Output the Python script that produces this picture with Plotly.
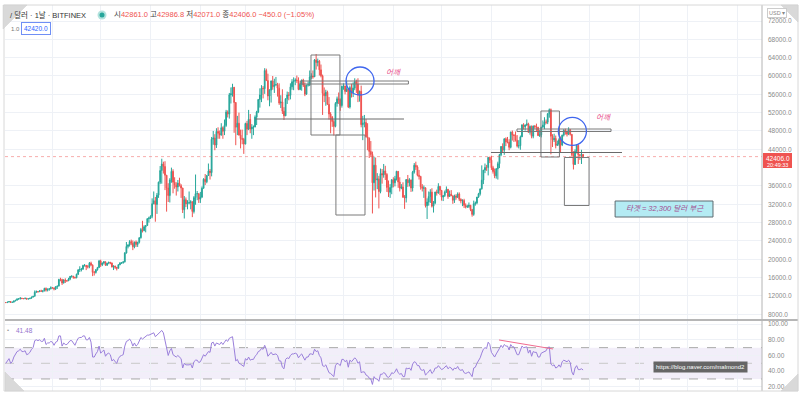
import pandas as pd
import plotly.graph_objects as go

# ---------------- data (BTC/USD daily, Bitfinex) ----------------
dates = pd.date_range("2020-10-03", "2021-09-27", freq="D")

open_ = [
    10570, 10550, 10670, 10790, 10600, 10670, 10920, 11060, 11300, 11380, 11540, 11430, 11430, 11500, 11330, 11370, 11510, 11750, 11920, 12820, 12970, 12930, 13110, 13030, 13070, 13650, 13270, 13460, 13560,
    13800, 13760, 13550, 14030, 14150, 15590, 15580, 14830, 15480, 15330, 15300, 15700, 16280, 16320, 16070, 15960, 16730, 17680, 17800, 17820, 18660, 18680, 18370, 18360, 19160, 18720, 17150, 17140, 17720, 18180,
    19630, 18800, 19200, 19450, 18700, 19150, 19360, 19170, 18320, 18550, 18250, 18030, 18800, 19140, 19250, 19440, 21380, 22800, 23130, 23860, 23480, 22740, 23780, 23240, 23730, 24710, 26490, 26280, 27080, 27360, 28840,
    29000, 29370, 32130, 32780, 31970, 33990, 36820, 39370, 40800, 40250, 38350, 35550, 33900, 37320, 39190, 36830, 36180, 35790, 36630, 36060, 35550, 30820, 33010, 32100, 32290, 32370, 32570, 30430, 33470, 34320, 34320,
    33110, 33540, 35510, 37470, 36930, 38300, 39260, 38900, 46200, 46480, 44920, 47910, 47500, 47100, 48720, 47940, 49200, 52150, 51680, 55890, 56100, 57540, 54210, 48820, 49700, 47100, 46340, 46190,
    45140, 49630, 48380, 50540, 48440, 48860, 48880, 51020, 52130, 54880, 55860, 57330, 57220, 61190, 59000, 55630, 56910, 58920, 57650, 58030, 58100, 57350, 54100, 54340, 52300, 51300, 55030, 55860, 55780, 57630, 58730,
    58920, 59100, 59040, 57060, 58200, 59120, 57990, 56030, 58010, 58090, 59800, 60000, 59820, 63500, 62940, 63220, 61340, 60040, 56200, 55700, 56450, 53810, 51700, 51090, 50050, 49000, 54020, 55030, 54820, 53560,
    57750, 57830, 56630, 57200, 53240, 57470, 56400, 57350, 58800, 58230, 55860, 56670, 49380, 49700, 49840, 46720, 46420, 43540, 42870, 36690, 40530, 37300, 37540, 34770, 38700, 38400, 39290, 38530, 35680, 34630, 35680,
    37340, 36690, 37580, 39190, 36860, 35520, 35800, 33560, 33400, 37390, 36690, 37310, 35550, 39020, 40530, 40160, 38340, 38090, 35820, 35480, 35590, 31680, 32500, 33690, 34660, 31590, 32280, 34700, 34490, 35910,
    35040, 33570, 33900, 34660, 35290, 33710, 34220, 33860, 32880, 33820, 33520, 34260, 33090, 32730, 32820, 31780, 31420, 31530, 31800, 30840, 29800, 32140, 32310, 33580, 34290, 35380, 37270, 39460, 40030, 40010, 42240,
    41630, 39970, 39150, 38210, 39750, 40870, 42830, 44610, 43820, 46290, 45580, 45570, 44430, 47790, 47100, 47040, 45970, 44700, 44800, 46720, 49340, 48900, 49320, 49540, 47710, 48990, 46850, 49070, 48900, 48810, 46990,
    47150, 48840, 49280, 49940, 49920, 51770, 52660, 46860, 46070, 46370, 44850, 45160, 46060, 44960, 47090, 48150, 47780, 47300, 48310, 47260, 42840, 40690, 43560, 44880, 42810, 42700, 42861,
]
high = [
    10600, 10690, 10800, 10800, 10690, 10950, 11100, 11480, 11440, 11720, 11560, 11550, 11630, 11540, 11400, 11530, 11820, 11990, 13200, 13180, 13020, 13150, 13350, 13240, 13780, 13850, 13630, 13680, 14100,
    13890, 13830, 14070, 14250, 15750, 15970, 15760, 15650, 15840, 15460, 15950, 16340, 16480, 16330, 16150, 16870, 17850, 18480, 18120, 18800, 18960, 18720, 18770, 19400, 19480, 18900, 17440, 17880, 18340, 19860,
    19920, 19300, 19600, 19520, 19170, 19420, 19400, 19290, 18640, 18560, 18280, 18950, 19400, 19330, 19550, 21560, 23770, 23270, 24170, 24300, 24100, 23830, 24100, 23800, 24800, 26850, 28400, 27420, 27400, 28990, 29300,
    29600, 33300, 34800, 33600, 34470, 36950, 40350, 41950, 41300, 41400, 38400, 36600, 37700, 40000, 39650, 37900, 36800, 37300, 37800, 36400, 35600, 33800, 33500, 32900, 34800, 32900, 32600, 33800, 38500, 34900, 34400,
    34700, 35900, 37700, 38600, 38300, 40900, 39700, 46700, 48000, 47300, 48600, 48800, 48100, 49700, 49000, 50500, 52600, 52500, 56300, 57500, 58300, 57600, 54300, 51300, 52000, 48300, 48300, 46500,
    49800, 50200, 52600, 51700, 49500, 49200, 51400, 52400, 54900, 57300, 58000, 57800, 61700, 61600, 60500, 57100, 59000, 60000, 59400, 59800, 58500, 58400, 55800, 57100, 53200, 55100, 56600, 56500, 58400, 59300, 59700,
    59500, 60100, 59700, 58500, 59200, 59400, 58600, 58100, 58800, 61200, 60600, 61200, 63700, 64800, 63800, 63500, 62500, 60300, 57500, 57000, 56800, 55400, 52100, 51200, 50500, 54300, 55500, 56400, 55100, 57900,
    58400, 57900, 58900, 57300, 57900, 58300, 58600, 59500, 59200, 59500, 56800, 57900, 51300, 51500, 50600, 49700, 46600, 45800, 43500, 42400, 42200, 38800, 38200, 39800, 39700, 40800, 40400, 38800, 37200, 36400, 37500,
    37900, 38200, 39300, 39200, 37900, 36400, 36800, 34000, 37500, 38400, 37700, 37400, 39300, 41000, 41300, 40500, 39500, 38200, 36400, 36100, 35700, 33300, 34800, 35300, 35500, 32700, 34700, 35200, 36600, 36000,
    35100, 33900, 35000, 35900, 35300, 35000, 35100, 33900, 34100, 34200, 34600, 34600, 33300, 33100, 33200, 32200, 31900, 32400, 31800, 31000, 32800, 32600, 33600, 34500, 35400, 40500, 39500, 40900, 40600, 42300, 42400,
    42600, 40400, 39800, 39900, 41300, 43000, 44700, 45300, 46400, 46600, 46700, 46200, 47800, 48100, 47300, 47900, 47100, 46000, 47000, 49400, 49700, 49400, 50500, 49800, 49200, 49200, 49200, 49300, 49600, 48900, 48200,
    48900, 50300, 51000, 50500, 51900, 52900, 52900, 47300, 47400, 47000, 45900, 46400, 46800, 47200, 48400, 48500, 48100, 48800, 48400, 47300, 43600, 44000, 44900, 45100, 42900, 43900, 42986.8,
]
low = [
    10500, 10520, 10630, 10550, 10550, 10540, 10830, 11060, 11260, 11230, 11300, 11280, 11280, 11220, 11300, 11350, 11420, 11690, 11900, 12710, 12720, 12900, 12900, 12770, 13050, 12950, 12990, 13130, 13430,
    13630, 13220, 13290, 13530, 14100, 15200, 14400, 14710, 14830, 15080, 15280, 15440, 15980, 15760, 15800, 15870, 16560, 17220, 17350, 17760, 18400, 17640, 18000, 18050, 18600, 16330, 16450, 16890, 17530, 18180,
    18330, 18520, 18900, 18580, 18580, 18920, 18920, 18220, 17650, 17910, 17570, 18000, 18720, 19000, 19050, 19300, 21250, 22380, 22780, 23080, 22000, 22400, 22700, 22700, 23450, 24520, 25850, 26100, 25880, 27340, 28000,
    28800, 28950, 32000, 28200, 29900, 33400, 36400, 36500, 38700, 35100, 30400, 32500, 32400, 36700, 34400, 35400, 33900, 34800, 35900, 33400, 30100, 28900, 31400, 30900, 32000, 30900, 29200, 30000, 31900, 32900, 32300,
    32300, 33450, 35400, 36200, 36600, 38200, 37400, 38100, 45000, 43800, 44300, 46300, 46300, 47000, 46300, 47100, 48900, 50950, 50700, 54000, 55500, 47600, 44900, 47100, 47000, 44200, 45100, 43000,
    45100, 47100, 48200, 47500, 46300, 47100, 48800, 49300, 51900, 53100, 54300, 55100, 56100, 58900, 54700, 53400, 54200, 57000, 56300, 57900, 55500, 53700, 53000, 51700, 50400, 51300, 53900, 54700, 54900, 57000, 56900,
    58000, 58500, 56900, 56900, 56800, 57600, 55600, 55900, 57700, 57800, 59300, 59400, 59800, 61400, 62100, 60100, 59700, 51500, 54300, 53500, 53700, 50500, 47500, 48900, 47000, 48800, 53300, 53900, 52400, 53100,
    57000, 56000, 56500, 53000, 52900, 55300, 55400, 56900, 56300, 54300, 54400, 48800, 46000, 48800, 46600, 43800, 42100, 42300, 30000, 35000, 33500, 35300, 31100, 34400, 36500, 37800, 37300, 34700, 33600, 33400, 34200,
    35700, 35900, 37200, 35600, 34800, 35300, 33400, 31000, 32400, 35800, 35900, 34700, 34800, 38700, 39500, 38100, 37400, 35200, 34800, 33400, 31300, 28800, 31700, 32300, 31300, 30200, 32000, 33900, 34300, 34000,
    32800, 32700, 33600, 34500, 33200, 33600, 33800, 32100, 32300, 33000, 33400, 32700, 32200, 31600, 31200, 31100, 31200, 31200, 30500, 29300, 29500, 31700, 32000, 33400, 33900, 35200, 36400, 38800, 39300, 38300, 41000,
    39500, 38700, 37700, 37600, 37400, 39900, 42500, 43300, 42800, 44700, 45300, 43800, 44200, 45900, 45600, 45700, 44400, 44200, 43900, 46700, 48300, 48100, 49100, 47600, 47200, 46400, 46400, 48500, 48000, 46900, 46700,
    46600, 48700, 48400, 49500, 49500, 50900, 42900, 44500, 45600, 44200, 44800, 44800, 43400, 44700, 46800, 47200, 46800, 47100, 47000, 42500, 39600, 40600, 43100, 40800, 41700, 40800, 42071,
]
close = [
    10550, 10670, 10790, 10600, 10670, 10920, 11060, 11300, 11380, 11540, 11430, 11430, 11500, 11330, 11370, 11510, 11750, 11920, 12820, 12970, 12930, 13110, 13030, 13070, 13650, 13270, 13460, 13560, 13800,
    13760, 13550, 14030, 14150, 15590, 15580, 14830, 15480, 15330, 15300, 15700, 16280, 16320, 16070, 15960, 16730, 17680, 17800, 17820, 18660, 18680, 18370, 18360, 19160, 18720, 17150, 17140, 17720, 18180, 19630,
    18800, 19200, 19450, 18700, 19150, 19360, 19170, 18320, 18550, 18250, 18030, 18800, 19140, 19250, 19440, 21380, 22800, 23130, 23860, 23480, 22740, 23780, 23240, 23730, 24710, 26490, 26280, 27080, 27360, 28840, 29000,
    29370, 32130, 32780, 31970, 33990, 36820, 39370, 40800, 40250, 38350, 35550, 33900, 37320, 39190, 36830, 36180, 35790, 36630, 36060, 35550, 30820, 33010, 32100, 32290, 32370, 32570, 30430, 33470, 34320, 34320, 33110,
    33540, 35510, 37470, 36930, 38300, 39260, 38900, 46200, 46480, 44920, 47910, 47500, 47100, 48720, 47940, 49200, 52150, 51680, 55890, 56100, 57540, 54210, 48820, 49700, 47100, 46340, 46190, 45140,
    49630, 48380, 50540, 48440, 48860, 48880, 51020, 52130, 54880, 55860, 57330, 57220, 61190, 59000, 55630, 56910, 58920, 57650, 58030, 58100, 57350, 54100, 54340, 52300, 51300, 55030, 55860, 55780, 57630, 58730, 58920,
    59100, 59040, 57060, 58200, 59120, 57990, 56030, 58010, 58090, 59800, 60000, 59820, 63500, 62940, 63220, 61340, 60040, 56200, 55700, 56450, 53810, 51700, 51090, 50050, 49000, 54020, 55030, 54820, 53560, 57750,
    57830, 56630, 57200, 53240, 57470, 56400, 57350, 58800, 58230, 55860, 56670, 49380, 49700, 49840, 46720, 46420, 43540, 42870, 36690, 40530, 37300, 37540, 34770, 38700, 38400, 39290, 38530, 35680, 34630, 35680, 37340,
    36690, 37580, 39190, 36860, 35520, 35800, 33560, 33400, 37390, 36690, 37310, 35550, 39020, 40530, 40160, 38340, 38090, 35820, 35480, 35590, 31680, 32500, 33690, 34660, 31590, 32280, 34700, 34490, 35910, 35040,
    33570, 33900, 34660, 35290, 33710, 34220, 33860, 32880, 33820, 33520, 34260, 33090, 32730, 32820, 31780, 31420, 31530, 31800, 30840, 29800, 32140, 32310, 33580, 34290, 35380, 37270, 39460, 40030, 40010, 42240, 41630,
    39970, 39150, 38210, 39750, 40870, 42830, 44610, 43820, 46290, 45580, 45570, 44430, 47790, 47100, 47040, 45970, 44700, 44800, 46720, 49340, 48900, 49320, 49540, 47710, 48990, 46850, 49070, 48900, 48810, 46990, 47150,
    48840, 49280, 49940, 49920, 51770, 52660, 46860, 46070, 46370, 44850, 45160, 46060, 44960, 47090, 48150, 47780, 47300, 48310, 47260, 42840, 40690, 43560, 44880, 42810, 42700, 42856, 42406,
]
rsi = [
    50, 53, 56, 50, 52, 58, 61, 65, 66, 68, 65, 65, 66, 61, 62, 64, 68, 70, 79, 80, 79, 80, 78, 78, 82, 74, 76, 76, 78,
    77, 73, 77, 78, 85, 85, 72, 76, 74, 74, 76, 79, 79, 75, 73, 78, 82, 83, 83, 85, 85, 80, 80, 83, 77, 58, 58, 62, 65, 72,
    63, 65, 67, 59, 62, 63, 61, 53, 55, 52, 50, 56, 59, 60, 61, 72, 78, 79, 81, 78, 72, 76, 72, 74, 78, 83, 81, 83, 84, 86, 86,
    87, 89, 89, 84, 86, 89, 91, 92, 89, 79, 66, 60, 66, 69, 61, 59, 58, 60, 58, 56, 44, 50, 48, 48, 48, 49, 44, 52, 54, 54, 51,
    52, 56, 61, 59, 63, 65, 64, 76, 77, 72, 76, 75, 74, 77, 74, 77, 80, 78, 82, 83, 84, 69, 53, 55, 50, 49, 48, 46,
    56, 54, 58, 54, 55, 55, 59, 61, 65, 66, 69, 68, 73, 68, 59, 61, 64, 61, 62, 62, 60, 53, 53, 45, 43, 55, 57, 56, 60, 62, 62,
    63, 62, 57, 60, 62, 58, 54, 58, 58, 62, 62, 61, 68, 65, 66, 60, 57, 47, 46, 48, 42, 38, 37, 35, 33, 47, 50, 49, 47, 55,
    55, 52, 54, 45, 54, 52, 54, 57, 55, 50, 52, 38, 39, 39, 35, 34, 31, 30, 23, 33, 30, 30, 27, 36, 36, 38, 37, 33, 32, 34, 38,
    37, 39, 43, 38, 36, 37, 33, 33, 44, 43, 44, 41, 49, 52, 51, 47, 47, 42, 41, 42, 35, 37, 40, 42, 37, 39, 44, 44, 47, 45,
    42, 43, 45, 47, 43, 45, 44, 41, 44, 43, 46, 42, 41, 42, 38, 37, 38, 39, 36, 33, 44, 45, 50, 53, 57, 63, 68, 70, 69, 77, 74,
    64, 61, 58, 62, 65, 69, 73, 70, 74, 72, 72, 67, 74, 71, 71, 66, 61, 61, 67, 72, 70, 71, 71, 63, 67, 59, 65, 64, 64, 58, 58,
    63, 64, 66, 66, 70, 71, 49, 47, 48, 44, 45, 48, 45, 52, 54, 53, 52, 54, 51, 39, 35, 44, 47, 42, 42, 43, 41.48,
]
price_ticks = [8000, 12000, 16000, 20000, 24000, 28000, 32000, 36000, 44000,
               48000, 52000, 56000, 60000, 64000, 68000, 72000]
rsi_ticks = [20, 40, 60, 80, 100]
last_price = 42406
target_text = "타겟 = 32,300 달러 부근"

# ---------------- style ----------------
W, H = 800, 397
UP, DOWN = "#26a69a", "#ef5350"
GRID = "#eef1f6"
AXF = dict(family="Liberation Sans, Noto Sans CJK KR, sans-serif", size=6.5, color="#8a8a8a")
FONT = "Liberation Sans, Noto Sans CJK KR, sans-serif"
XDOM = [5 / W, 762 / W]
XR = ["2020-10-02 12:00", "2022-01-16 06:30"]


def px(x):
    return x / W


def py(y):
    return 1 - y / H


fig = go.Figure()
fig.add_trace(go.Candlestick(
    x=dates, open=open_, high=high, low=low, close=close,
    increasing=dict(line=dict(color=UP, width=1), fillcolor=UP),
    decreasing=dict(line=dict(color=DOWN, width=1), fillcolor=DOWN),
    whiskerwidth=0, xaxis="x", yaxis="y", hoverinfo="skip", showlegend=False))
fig.add_trace(go.Scatter(
    x=dates, y=rsi, mode="lines", line=dict(color="#9a7fdb", width=1),
    xaxis="x2", yaxis="y2", hoverinfo="skip", showlegend=False))

common_x = dict(domain=XDOM, range=XR, type="date", showticklabels=False, showgrid=True,
                gridcolor=GRID, gridwidth=1, dtick="M1", tick0="2020-11-01",
                zeroline=False, showline=False, ticks="", fixedrange=True)

fig.update_layout(
    width=W, height=H, margin=dict(l=0, r=0, t=0, b=0),
    paper_bgcolor="white", plot_bgcolor="white", showlegend=False, hovermode=False,
    xaxis=dict(**common_x, anchor="y", rangeslider=dict(visible=False)),
    xaxis2=dict(**common_x, anchor="y2", matches="x"),
    yaxis=dict(domain=[py(320), py(5)], range=[6752, 75492], side="right", anchor="x",
               tickvals=price_ticks, tickformat=".1f", tickfont=AXF, showgrid=True,
               gridcolor=GRID, zeroline=False, ticks="", automargin=False,
               ticklabelstandoff=5, showline=False, fixedrange=True),
    yaxis2=dict(domain=[py(391), py(321)], range=[14.61, 104.06], side="right", anchor="x2",
                tickvals=rsi_ticks, tickformat=".2f", tickfont=AXF, showgrid=True,
                gridcolor=GRID, zeroline=False, ticks="", automargin=False,
                ticklabelstandoff=5, showline=False, fixedrange=True),
)

shapes = []
# RSI band and levels
shapes.append(dict(type="rect", xref="paper", yref="y2", x0=XDOM[0], x1=XDOM[1], y0=30, y1=70,
                   fillcolor="rgba(126,87,194,0.10)", line=dict(width=0), layer="below"))
for lv, col in [(70, "#a8a8a8"), (50, "#c8c8c8"), (30, "#a8a8a8")]:
    shapes.append(dict(type="line", xref="paper", yref="y2", x0=XDOM[0], x1=XDOM[1], y0=lv, y1=lv,
                       line=dict(color=col, width=1, dash="dash"), layer="below"))
# current price line
shapes.append(dict(type="line", xref="paper", yref="y", x0=XDOM[0], x1=XDOM[1], y0=last_price, y1=last_price,
                   line=dict(color="rgba(239,83,80,0.6)", width=0.8, dash="dot")))
# pane separators
shapes.append(dict(type="line", xref="paper", yref="paper", x0=px(5), x1=px(798), y0=py(320), y1=py(320),
                   line=dict(color="#9e9e9e", width=1.5)))
shapes.append(dict(type="line", xref="paper", yref="paper", x0=px(762), x1=px(762), y0=py(391), y1=py(5),
                   line=dict(color="#b4b4b4", width=1)))

GRAY = "#7a7a7a"
BLUE = "#3f66ee"
# left shoulder drawings
shapes += [
    dict(type="rect", x0="2021-04-10 19:00", x1="2021-04-28 19:00", y0=47120, y1=64580, line=dict(color=GRAY, width=1)),
    dict(type="rect", x0="2021-04-26 07:00", x1="2021-05-14 09:00", y0=29665, y1=47120, line=dict(color=GRAY, width=1)),
    dict(type="line", x0="2021-03-07 05:00", x1="2021-06-07 15:00", y0=50614, y1=50614, line=dict(color="#6a6a6a", width=1)),
    dict(type="rect", x0="2021-04-04 04:00", x1="2021-06-10 09:00", y0=58252, y1=58907, line=dict(color=GRAY, width=1)),
    dict(type="circle", x0="2021-05-02 14:00", x1="2021-05-20 00:00", y0=55852, y1=61962, line=dict(color=BLUE, width=1.3)),
    # right shoulder drawings
    dict(type="rect", x0="2021-08-31 19:00", x1="2021-09-12 07:00", y0=42322, y1=52360, line=dict(color=GRAY, width=1)),
    dict(type="rect", x0="2021-09-15 09:00", x1="2021-09-30 17:00", y0=31738, y1=42213, line=dict(color=GRAY, width=1)),
    dict(type="line", x0="2021-07-31 17:00", x1="2021-10-21 05:00", y0=43304, y1=43304, line=dict(color="#6a6a6a", width=1)),
    dict(type="rect", x0="2021-08-16 22:00", x1="2021-10-14 09:00", y0=47887, y1=48432, line=dict(color=GRAY, width=1)),
    dict(type="circle", x0="2021-09-11 15:00", x1="2021-09-29 02:00", y0=44875, y1=50985, line=dict(color=BLUE, width=1.3)),
    # target box
    dict(type="rect", x0="2021-10-16 22:00", x1="2021-12-16 19:00", y0=29229, y1=32720,
         fillcolor="#b4ebf3", line=dict(color="#5f6b70", width=1)),
]
# RSI divergence line
shapes.append(dict(type="line", xref="x2", yref="y2", x0="2021-08-05 17:00", x1="2021-09-08 07:00",
                   y0=79.8, y1=68.3, line=dict(color="#f06b8f", width=1)))
# price label box
shapes.append(dict(type="rect", xref="paper", yref="paper", x0=px(763), x1=px(792), y0=py(168), y1=py(153),
                   fillcolor="#ef5350", line=dict(width=0)))
# legend dot
shapes.append(dict(type="circle", xref="paper", yref="paper", x0=px(97.5), x1=px(106.5), y0=py(19.5), y1=py(10.5),
                   fillcolor="#b3e2dd", line=dict(width=0)))
shapes.append(dict(type="circle", xref="paper", yref="paper", x0=px(99.5), x1=px(104.5), y0=py(17.5), y1=py(12.5),
                   fillcolor=UP, line=dict(width=0)))
# frame and page-curl corners
shapes.append(dict(type="rect", xref="paper", yref="paper", x0=px(4), x1=px(798), y0=py(391), y1=py(5),
                   line=dict(color="#d8d8d8", width=1)))
for pts in [[(3, 5), (27, 5), (3, 29)], [(5, 372), (5, 391), (24, 391)],
            [(781, 5), (798, 5), (798, 22)], [(781, 391), (798, 391), (798, 374)]]:
    path = "M " + " L ".join(f"{px(a):.5f},{py(b):.5f}" for a, b in pts) + " Z"
    shapes.append(dict(type="path", xref="paper", yref="paper", path=path,
                       fillcolor="#d9d9d9", line=dict(color="#cfcfcf", width=0.5)))
fig.update_layout(shapes=shapes)

ann = []
R = "#ef5350"
ohlc = (f"시<span style='color:{R}'>42861.0</span> 고<span style='color:{R}'>42986.8</span> "
        f"저<span style='color:{R}'>42071.0</span> 종<span style='color:{R}'>42406.0</span> "
        f"<span style='color:{R}'>−450.0 (−1.05%)</span>")
ann += [
    dict(xref="paper", yref="paper", x=px(8), y=py(15), xanchor="left", yanchor="middle", showarrow=False,
         text="/ 달러 · 1날 · BITFINEX", font=dict(family=FONT, size=7.5, color="#333333")),
    dict(xref="paper", yref="paper", x=px(112), y=py(15), xanchor="left", yanchor="middle", showarrow=False,
         text=ohlc, font=dict(family=FONT, size=7.5, color="#444444")),
    dict(xref="paper", yref="paper", x=px(9), y=py(29), xanchor="left", yanchor="middle", showarrow=False,
         text="1.0", font=dict(family=FONT, size=6, color="#777777")),
    dict(xref="paper", yref="paper", x=px(21), y=py(29), xanchor="left", yanchor="middle", showarrow=False,
         text="42420.0", font=dict(family=FONT, size=6.5, color="#2962ff"),
         bordercolor="#6f8ff5", borderwidth=1, borderpad=2, bgcolor="white"),
    dict(xref="paper", yref="paper", x=px(777), y=py(13), xanchor="center", yanchor="middle", showarrow=False,
         text="USD ▾", font=dict(family=FONT, size=5.5, color="#888888"),
         bordercolor="#cccccc", borderwidth=1, borderpad=1, bgcolor="white"),
    dict(xref="paper", yref="paper", x=px(777.5), y=py(158), xanchor="center", yanchor="middle", showarrow=False,
         text="42406.0", font=dict(family=FONT, size=6.5, color="white")),
    dict(xref="paper", yref="paper", x=px(777.5), y=py(164.5), xanchor="center", yanchor="middle", showarrow=False,
         text="20:49:33", font=dict(family=FONT, size=5.5, color="white")),
    dict(xref="paper", yref="paper", x=px(8), y=py(330), xanchor="center", yanchor="middle", showarrow=False,
         text="•", font=dict(family=FONT, size=6, color="#999999")),
    dict(xref="paper", yref="paper", x=px(14), y=py(330), xanchor="left", yanchor="middle", showarrow=False,
         text="41.48", font=dict(family=FONT, size=6.5, color="#9575cd")),
    dict(xref="x", yref="y", x="2021-05-31 19:00", y=60653, xanchor="center", yanchor="middle", showarrow=False,
         text="<i>어깨</i>", font=dict(family=FONT, size=7.5, color="#e8508c")),
    dict(xref="x", yref="y", x="2021-10-09 10:00", y=50898, xanchor="center", yanchor="middle", showarrow=False,
         text="<i>어깨</i>", font=dict(family=FONT, size=7.5, color="#e8508c")),
    dict(xref="x", yref="y", x="2021-11-16 20:00", y=30975, xanchor="center", yanchor="middle", showarrow=False,
         text=f"<i>{target_text}</i>", font=dict(family=FONT, size=7.5, color="#a34c8f")),
    dict(xref="paper", yref="paper", x=px(700), y=py(367), xanchor="center", yanchor="middle", showarrow=False,
         text="https://blog.naver.com/malmond2", font=dict(family=FONT, size=6, color="white"),
         bgcolor="#666666", borderpad=2),
]
fig.update_layout(annotations=ann)

fig.write_html("out.html",
               config={"displayModeBar": False, "staticPlot": True},
               post_script="document.body.style.margin='0';document.body.style.padding='0';"
                           "document.documentElement.style.overflow='hidden';")
